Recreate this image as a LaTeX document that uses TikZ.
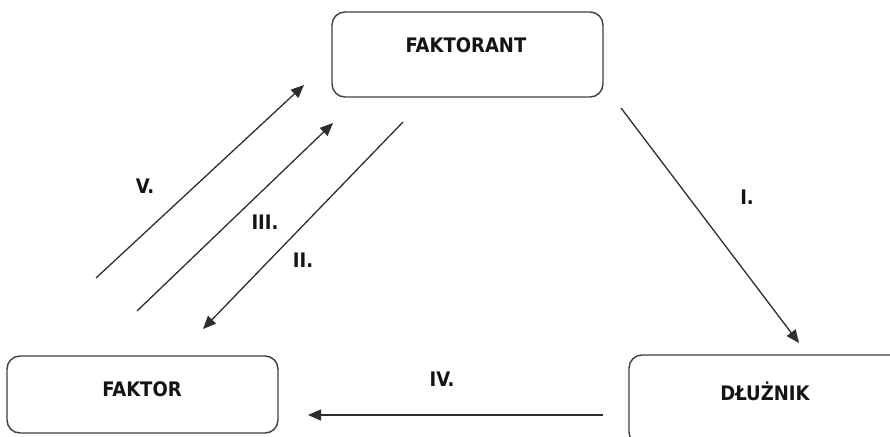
\documentclass[tikz,border=0pt]{standalone}
\usepackage{fontspec}
\setmainfont{DejaVu Sans}
\newfontfamily\lblfont{DejaVu Sans Condensed}[BoldFont={* Bold}]
\usetikzlibrary{arrows.meta}
\begin{document}
\begin{tikzpicture}[x=1pt,y=-1pt,
  box/.style={draw=black!75, line width=1.4pt, rounded corners=13pt, inner sep=0pt},
  txt/.style={font=\lblfont\bfseries\fontsize{20}{24}\selectfont, text=black!92, inner sep=0pt},
  conn/.style={draw=black!82, line width=1.3pt, -{Triangle[length=13pt,width=11pt]}}]
\useasboundingbox (0,0) rectangle (890,436);
% boxes
\node[box, minimum width=271pt, minimum height=85pt] (fa) at (467.5,54.5) {};
\node[txt] (faT) at (466,45) {FAKTORANT};
\node[box, minimum width=271pt, minimum height=77pt] (fk) at (142.5,394.5) {};
\node[txt] (fkT) at (142,389) {FAKTOR};
\node[box, minimum width=280pt, minimum height=90pt] (dl) at (769,400) {};
\node[txt] (dlT) at (765,391) {DŁUŻNIK};
% connector end points
\coordinate (i1) at (621,108);  \coordinate (i2) at (799,343);
\coordinate (iv1) at (603,415); \coordinate (iv2) at (308,415);
\coordinate (v1) at (96,278);   \coordinate (v2) at (304,85);
\coordinate (iii1) at (137,311); \coordinate (iii2) at (333,123);
\coordinate (ii1) at (403,122); \coordinate (ii2) at (203,329);
\draw[conn] (i1) -- (i2);
\draw[conn] (iv1) -- (iv2);
\draw[conn] (v1) -- (v2);
\draw[conn] (iii1) -- (iii2);
\draw[conn] (ii1) -- (ii2);
% labels
\node[txt] (lI) at (747,197) {I.};
\node[txt] (lIV) at (442,379) {IV.};
\node[txt] (lV) at (145,186) {V.};
\node[txt] (lIII) at (265,222) {III.};
\node[txt] (lII) at (303,260) {II.};
\end{tikzpicture}
\end{document}
